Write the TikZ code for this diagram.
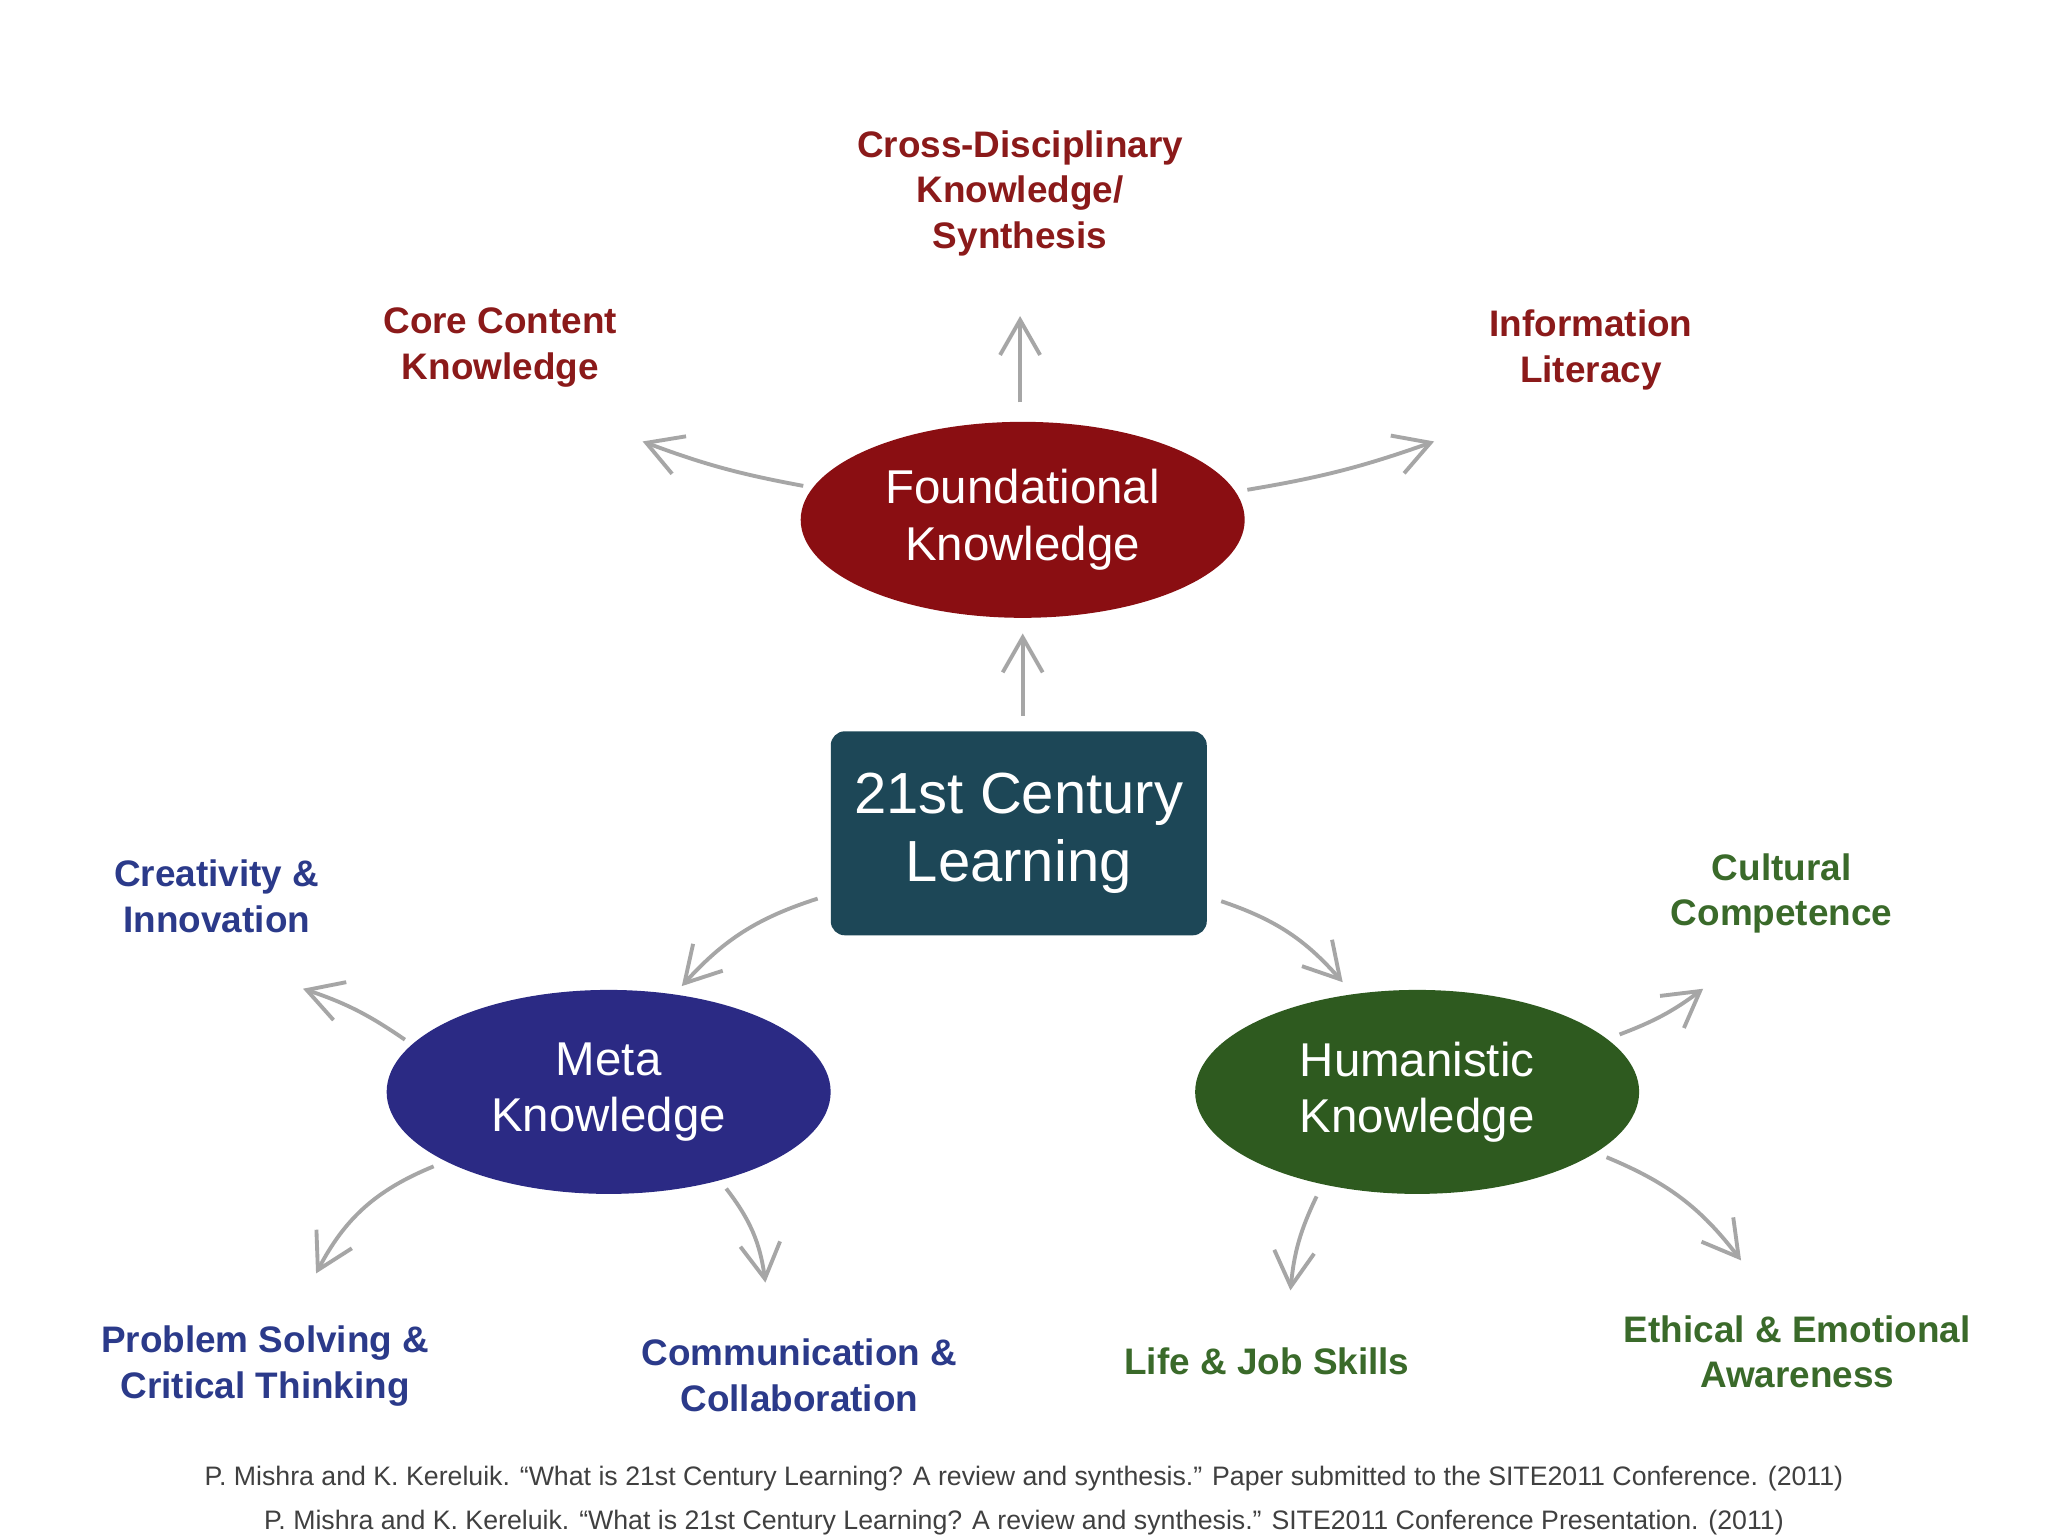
\documentclass[tikz,border=0pt]{standalone}
\usepackage{fontspec}
\setmainfont{Liberation Sans}
\usetikzlibrary{arrows.meta,shapes.geometric}
\definecolor{fred}{HTML}{8A0E12}
\definecolor{tred}{HTML}{8B1A1A}
\definecolor{mblue}{HTML}{2B2A84}
\definecolor{tblue}{HTML}{2B3A8A}
\definecolor{hgreen}{HTML}{2E5A1F}
\definecolor{tgreen}{HTML}{3A6A2A}
\definecolor{boxc}{HTML}{1D4757}
\tikzset{x=0.01306cm,y=-0.01306cm,
 lab/.style={align=center,font=\fontsize{10.5}{13}\selectfont\bfseries},
 arr/.style={draw=gray!70,line width=1.1pt,-{Straight Barb[length=3.5mm,width=4mm,line width=1.1pt]}}}
\begin{document}
\begin{tikzpicture}
\useasboundingbox (0,0) rectangle (1568,1176);
\fill[white] (0,0) rectangle (1568,1176);
\node[ellipse,fill=fred,minimum width=4.44cm,minimum height=1.96cm,text=white,align=center,font=\fontsize{13.5}{16}\selectfont] (F) at (783,398) {Foundational\\Knowledge};
\node[ellipse,fill=mblue,minimum width=4.44cm,minimum height=2.04cm,text=white,align=center,font=\fontsize{13.5}{16}\selectfont] (M) at (466,836) {Meta\\Knowledge};
\node[ellipse,fill=hgreen,minimum width=4.44cm,minimum height=2.04cm,text=white,align=center,font=\fontsize{13.5}{16}\selectfont] (H) at (1085,836) {Humanistic\\Knowledge};
\node[rounded corners=4pt,fill=boxc,minimum width=3.76cm,minimum height=2.04cm,text=white,align=center,font=\fontsize{16.5}{19.5}\selectfont] (B) at (780,638) {21st Century\\Learning};
\node[lab,text=tred] (t1) at (781,148) {Cross-Disciplinary\\Knowledge/\\Synthesis};
\node[lab,text=tred] (t2) at (383,266) {Core Content\\Knowledge};
\node[lab,text=tred] (t3) at (1218,268) {Information\\Literacy};
\node[lab,text=tblue] (t4) at (166,686) {Creativity \&\\Innovation};
\node[lab,text=tblue] (t5) at (203,1046) {Problem Solving \&\\Critical Thinking};
\node[lab,text=tblue] (t6) at (612,1053) {Communication \&\\Collaboration};
\node[lab,text=tgreen] (t7) at (1364,684) {Cultural\\Competence};
\node[lab,text=tgreen] (t8) at (970,1042) {Life \& Job Skills};
\node[lab,text=tgreen] (t9) at (1376,1035) {Ethical \& Emotional\\Awareness};
\node[text=black!75,align=center,font=\fontsize{7.6}{12.5}\selectfont] (cit) at (784,1149) {P. Mishra and K. Kereluik. “What is 21st Century Learning? A review and synthesis.” Paper submitted to the SITE2011 Conference. (2011)\\P. Mishra and K. Kereluik. “What is 21st Century Learning? A review and synthesis.” SITE2011 Conference Presentation. (2011)};
\foreach \n/\p in {a1/{783,548},b1/{783,485},a2/{781,308},b2/{781,242},a3/{615,372},b3/{492,338},a4/{955,375},b4/{1098,338},a5/{626,688},b5/{522,755},a6/{935,690},b6/{1028,752},a7/{310,796},b7/{232,757},a8/{332,893},b8/{242,975},a9/{556,910},b9/{586,982},a10/{1240,792},b10/{1304,757},a11/{1008,916},b11/{988,988},a12/{1230,886},b12/{1333,965}}
  \coordinate (\n) at (\p);
\draw[arr] (a1) -- (b1);
\draw[arr] (a2) -- (b2);
\draw[arr] (a3) to[bend left=5] (b3);
\draw[arr] (a4) to[bend right=5] (b4);
\draw[arr] (a5) to[bend right=15] (b5);
\draw[arr] (a6) to[bend left=15] (b6);
\draw[arr] (a7) to[bend right=8] (b7);
\draw[arr] (a8) to[bend right=20] (b8);
\draw[arr] (a9) to[bend left=15] (b9);
\draw[arr] (a10) to[bend right=8] (b10);
\draw[arr] (a11) to[bend right=10] (b11);
\draw[arr] (a12) to[bend left=15] (b12);
\end{tikzpicture}
\end{document}
